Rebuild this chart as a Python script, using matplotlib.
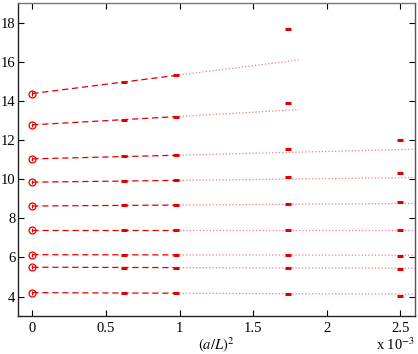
import numpy as np
import matplotlib
matplotlib.use("Agg")
from matplotlib import pyplot as plt

plt.rcParams["font.family"] = ["Liberation Serif", "DejaVu Serif"]
plt.rcParams["mathtext.fontset"] = "stix"

# x = (a/L)^2 in units of 1e-3, lattice sizes L = 40, 32, 24, 20
x_pts = [0.625, 0.977, 1.736, 2.5]

# continuum extrapolated values (x = 0) and fit slopes
y0 = [14.38, 12.78, 11.04, 9.85, 8.63, 7.42, 6.14, 5.50, 4.20]
slope = [0.95, 0.43, 0.19, 0.09, 0.05, 0.0, -0.01, -0.02, -0.03]
y0_err = [0.12, 0.10, 0.10, 0.10, 0.10, 0.10, 0.10, 0.10, 0.10]

# measured values at the lattice points (None = no point)
y_pts = [
    [14.97, 15.31, 17.66, None],
    [13.05, 13.20, 13.92, None],
    [11.17, 11.22, 11.52, 12.00],
    [9.92, 9.94, 10.11, 10.31],
    [8.66, 8.67, 8.74, 8.82],
    [7.41, 7.41, 7.42, 7.42],
    [6.13, 6.13, 6.11, 6.09],
    [5.47, 5.46, 5.46, 5.41],
    [4.17, 4.17, 4.14, 4.05],
]
x_end = [1.81, 1.81, 2.6, 2.6, 2.6, 2.6, 2.6, 2.6, 2.6]

red = "#e00000"

fig = plt.figure(figsize=(4.18, 3.54), dpi=100)
ax = fig.add_axes([0.042, 0.107, 0.951, 0.884])

for i in range(len(y0)):
    xs = np.linspace(0, x_pts[1], 20)
    ax.plot(xs, y0[i] + slope[i] * xs, color=red, lw=0.9, dashes=(5, 3))
    xs2 = np.linspace(x_pts[1], x_end[i], 40)
    ax.plot(xs2, y0[i] + slope[i] * xs2, color=red, lw=0.9, ls=":", alpha=0.5)
    ax.errorbar([0], [y0[i]], yerr=[y0_err[i]], fmt="o", mfc="none", mec=red,
                ecolor=red, ms=5, mew=0.9, elinewidth=0.9)
    px = [x for x, y in zip(x_pts, y_pts[i]) if y is not None]
    py = [y for y in y_pts[i] if y is not None]
    ax.plot(px, py, ls="none", marker="_", color=red, ms=4, mew=2.2)

ax.set_xlim(-0.1, 2.6)
ax.set_ylim(3, 19)
ax.set_xticks([0, 0.5, 1, 1.5, 2, 2.5])
ax.set_xticklabels(["0", "0.5", "1", "1.5", "2", "2.5"])
ax.set_yticks([4, 6, 8, 10, 12, 14, 16, 18])
ax.tick_params(direction="in", top=True, right=True, length=4, labelsize=10.5)
ax.tick_params(axis="x", pad=4)
ax.tick_params(axis="y", pad=1.5)
for s in ax.spines.values():
    s.set_linewidth(1.0)
    s.set_color("#222222")
ax.spines["top"].set_color("#777777")
ax.spines["right"].set_color("#555555")

ax.set_xlabel(r"$(a/L)^2$", fontsize=10.5, labelpad=0)
fig.text(0.993, 0.012, r"x 10$^{-3}$", ha="right", va="baseline", fontsize=10.5)

fig.savefig("out.png", dpi=100)
